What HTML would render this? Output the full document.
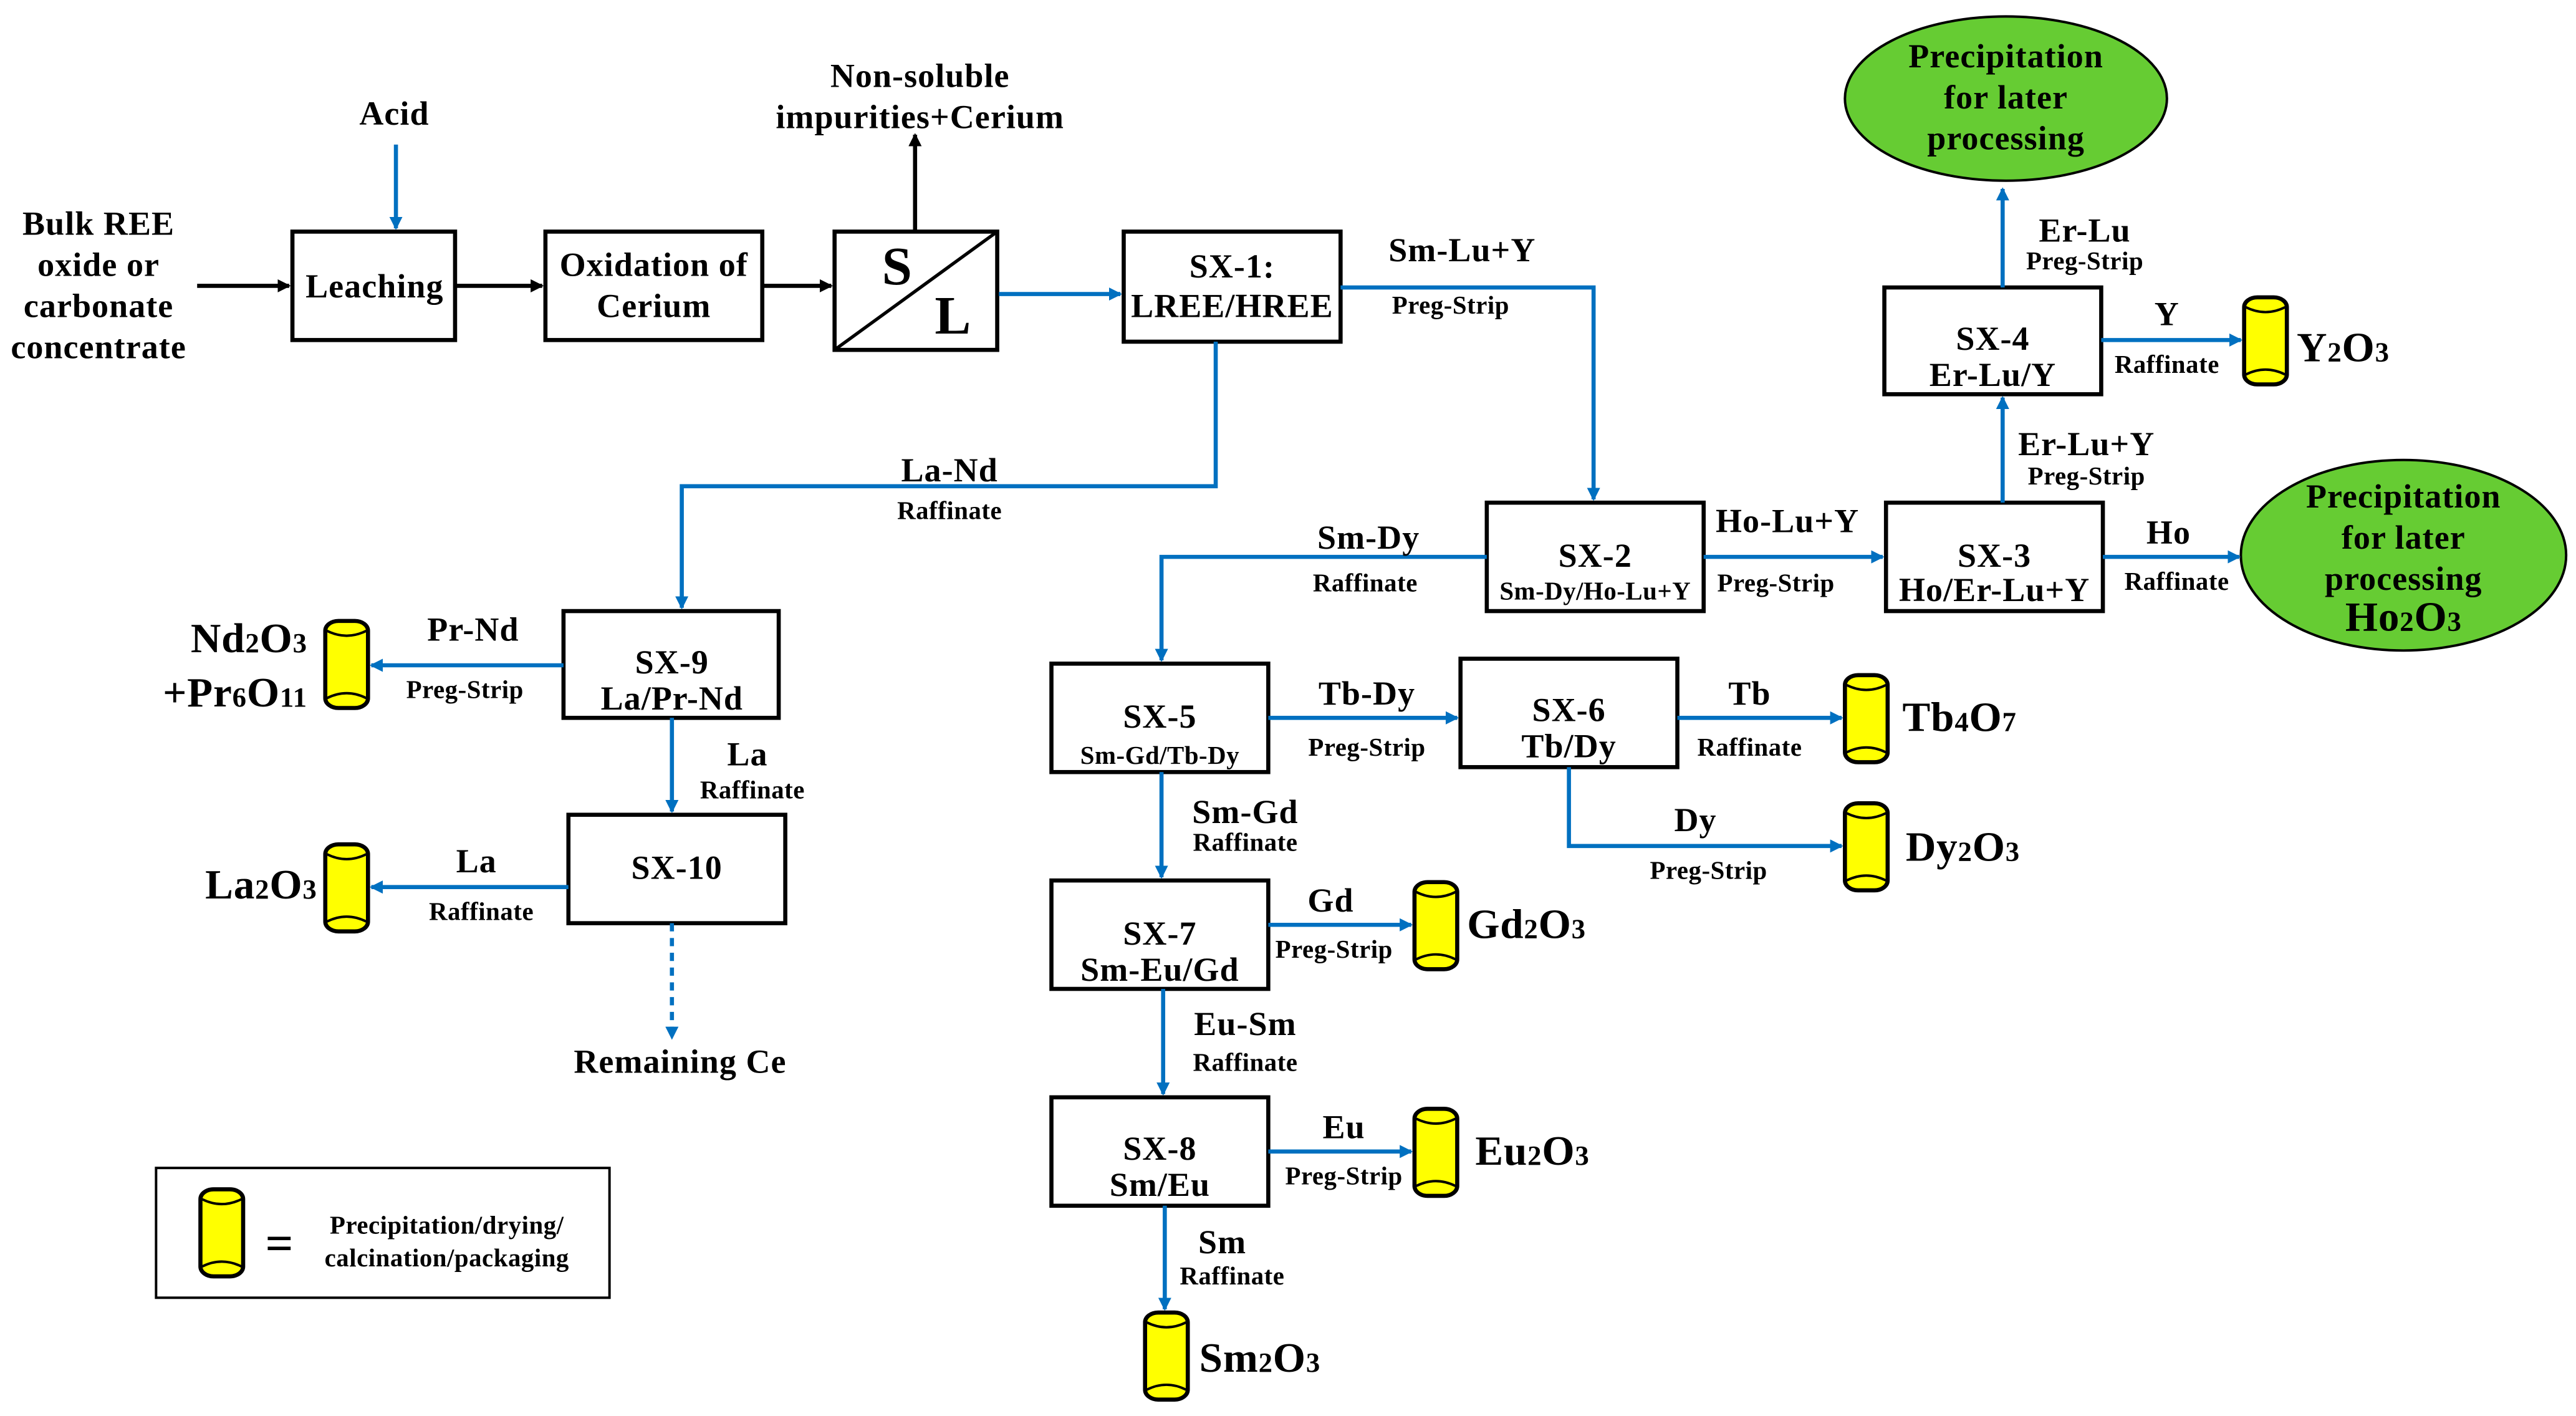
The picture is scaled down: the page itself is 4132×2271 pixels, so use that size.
<!DOCTYPE html>
<html><head><meta charset="utf-8"><style>
html,body{margin:0;padding:0;background:#fff;}
svg{display:block;}
text{font-family:"Liberation Serif",serif;font-weight:bold;fill:#000;}
.m{font-size:20.5px;letter-spacing:0.4px;}
.s{font-size:15.5px;letter-spacing:0.2px;}
.b{font-size:25.5px;letter-spacing:0.3px;}
</style></head><body>
<svg width="4132" height="2271" viewBox="0 0 1568 862" preserveAspectRatio="none" xmlns="http://www.w3.org/2000/svg">
<defs>
<marker id="ab" markerWidth="8" markerHeight="8" refX="7" refY="4" orient="auto" markerUnits="userSpaceOnUse"><path d="M0,0 L8,4 L0,8 z" fill="#0070c0"/></marker>
<marker id="ak" markerWidth="8" markerHeight="8" refX="7" refY="4" orient="auto" markerUnits="userSpaceOnUse"><path d="M0,0 L8,4 L0,8 z" fill="#000"/></marker>
<g id="cyl"><rect x="0" y="0" width="26" height="53" rx="8" ry="6" fill="#ffff00" stroke="#000" stroke-width="2.5"/><path d="M1,6 Q13,12 25,6 M1,47 Q13,41 25,47" fill="none" stroke="#000" stroke-width="1.5"/></g>
</defs>
<g fill="#fff" stroke="#000" stroke-width="2.5">
<rect x="178" y="141" width="99" height="66"/>
<rect x="332" y="141" width="132" height="66"/>
<rect x="508" y="141" width="99" height="72"/>
<rect x="684" y="141" width="132" height="67"/>
<rect x="905" y="306" width="132" height="66"/>
<rect x="1148" y="306" width="132" height="66"/>
<rect x="1147" y="175" width="132" height="65"/>
<rect x="343" y="372" width="131" height="65"/>
<rect x="346" y="496" width="132" height="66"/>
<rect x="640" y="404" width="132" height="66"/>
<rect x="889" y="401" width="132" height="66"/>
<rect x="640" y="536" width="132" height="66"/>
<rect x="640" y="668" width="132" height="66"/>
<rect x="95" y="711" width="276" height="79" stroke-width="1.5"/>
</g>
<line x1="508" y1="213" x2="607" y2="141" stroke="#000" stroke-width="2"/>
<ellipse cx="1463" cy="338" rx="99" ry="58" fill="#66cc33" stroke="#000" stroke-width="1.5"/>
<ellipse cx="1221" cy="60" rx="98" ry="50" fill="#66cc33" stroke="#000" stroke-width="1.5"/>
<g stroke="#000" stroke-width="2.5" fill="none">
<line x1="120" y1="174" x2="176" y2="174" marker-end="url(#ak)"/>
<line x1="278" y1="174" x2="330" y2="174" marker-end="url(#ak)"/>
<line x1="465" y1="174" x2="506" y2="174" marker-end="url(#ak)"/>
<line x1="557" y1="141" x2="557" y2="82" marker-end="url(#ak)"/>
</g>
<g stroke="#0070c0" stroke-width="2.5" fill="none">
<line x1="241" y1="88" x2="241" y2="139" marker-end="url(#ab)"/>
<line x1="608" y1="179" x2="682" y2="179" marker-end="url(#ab)"/>
<polyline points="816,175 970,175 970,304" marker-end="url(#ab)"/>
<polyline points="740,208 740,296 415,296 415,370" marker-end="url(#ab)"/>
<polyline points="905,339 707,339 707,402" marker-end="url(#ab)"/>
<line x1="1037" y1="339" x2="1146" y2="339" marker-end="url(#ab)"/>
<line x1="1280" y1="339" x2="1363" y2="339" marker-end="url(#ab)"/>
<line x1="1219" y1="306" x2="1219" y2="242" marker-end="url(#ab)"/>
<line x1="1279" y1="207" x2="1364" y2="207" marker-end="url(#ab)"/>
<line x1="1219" y1="175" x2="1219" y2="115" marker-end="url(#ab)"/>
<line x1="343" y1="405" x2="226" y2="405" marker-end="url(#ab)"/>
<line x1="409" y1="437" x2="409" y2="494" marker-end="url(#ab)"/>
<line x1="346" y1="540" x2="226" y2="540" marker-end="url(#ab)"/>
<line x1="409" y1="562" x2="409" y2="632" stroke-dasharray="5,4" marker-end="url(#ab)"/>
<line x1="772" y1="437" x2="887" y2="437" marker-end="url(#ab)"/>
<line x1="1021" y1="437" x2="1121" y2="437" marker-end="url(#ab)"/>
<polyline points="955,467 955,515 1121,515" marker-end="url(#ab)"/>
<line x1="707" y1="470" x2="707" y2="534" marker-end="url(#ab)"/>
<line x1="772" y1="563" x2="859" y2="563" marker-end="url(#ab)"/>
<line x1="708" y1="602" x2="708" y2="666" marker-end="url(#ab)"/>
<line x1="772" y1="701" x2="859" y2="701" marker-end="url(#ab)"/>
<line x1="709" y1="734" x2="709" y2="797" marker-end="url(#ab)"/>
</g>
<use href="#cyl" x="1366" y="181"/>
<use href="#cyl" x="198" y="378"/>
<use href="#cyl" x="198" y="514"/>
<use href="#cyl" x="1123" y="411"/>
<use href="#cyl" x="1123" y="489"/>
<use href="#cyl" x="861" y="537"/>
<use href="#cyl" x="861" y="675"/>
<use href="#cyl" x="697" y="799"/>
<use href="#cyl" x="122" y="724"/>
<g text-anchor="middle" class="m">
<text x="60" y="143">Bulk REE</text><text x="60" y="168">oxide or</text><text x="60" y="193">carbonate</text><text x="60" y="218">concentrate</text>
<text x="240" y="76">Acid</text>
<text x="228" y="181">Leaching</text>
<text x="398" y="168">Oxidation of</text><text x="398" y="193">Cerium</text>
<text x="560" y="53">Non-soluble</text><text x="560" y="78">impurities+Cerium</text>
<text x="750" y="169">SX-1:</text><text x="750" y="193">LREE/HREE</text>
<text x="890" y="159">Sm-Lu+Y</text><text x="883" y="191" class="s">Preg-Strip</text>
<text x="578" y="293">La-Nd</text><text x="578" y="316" class="s">Raffinate</text>
<text x="971" y="345">SX-2</text><text x="971" y="365" class="s">Sm-Dy/Ho-Lu+Y</text>
<text x="833" y="334">Sm-Dy</text><text x="831" y="360" class="s">Raffinate</text>
<text x="1088" y="324">Ho-Lu+Y</text><text x="1081" y="360" class="s">Preg-Strip</text>
<text x="1214" y="345">SX-3</text><text x="1214" y="366">Ho/Er-Lu+Y</text>
<text x="1320" y="331">Ho</text><text x="1325" y="359" class="s">Raffinate</text>
<text x="1463" y="309">Precipitation</text><text x="1463" y="334">for later</text><text x="1463" y="359">processing</text>
<text x="1463" y="384" class="b">Ho<tspan font-size="17">2</tspan>O<tspan font-size="17">3</tspan></text>
<text x="1270" y="277">Er-Lu+Y</text><text x="1270" y="295" class="s">Preg-Strip</text>
<text x="1213" y="213">SX-4</text><text x="1213" y="235">Er-Lu/Y</text>
<text x="1319" y="198">Y</text><text x="1319" y="227" class="s">Raffinate</text>
<text x="1269" y="147">Er-Lu</text><text x="1269" y="164" class="s">Preg-Strip</text>
<text x="1221" y="41">Precipitation</text><text x="1221" y="66">for later</text><text x="1221" y="91">processing</text>
<text x="409" y="410">SX-9</text><text x="409" y="432">La/Pr-Nd</text>
<text x="288" y="390">Pr-Nd</text><text x="283" y="425" class="s">Preg-Strip</text>
<text x="455" y="466">La</text><text x="458" y="486" class="s">Raffinate</text>
<text x="412" y="535">SX-10</text>
<text x="290" y="531">La</text><text x="293" y="560" class="s">Raffinate</text>
<text x="414" y="653">Remaining Ce</text>
<text x="706" y="443">SX-5</text><text x="706" y="465" class="s">Sm-Gd/Tb-Dy</text>
<text x="832" y="429">Tb-Dy</text><text x="832" y="460" class="s">Preg-Strip</text>
<text x="955" y="439">SX-6</text><text x="955" y="461">Tb/Dy</text>
<text x="1065" y="429">Tb</text><text x="1065" y="460" class="s">Raffinate</text>
<text x="1032" y="506">Dy</text><text x="1040" y="535" class="s">Preg-Strip</text>
<text x="758" y="501">Sm-Gd</text><text x="758" y="518" class="s">Raffinate</text>
<text x="706" y="575">SX-7</text><text x="706" y="597">Sm-Eu/Gd</text>
<text x="810" y="555">Gd</text><text x="812" y="583" class="s">Preg-Strip</text>
<text x="758" y="630">Eu-Sm</text><text x="758" y="652" class="s">Raffinate</text>
<text x="706" y="706">SX-8</text><text x="706" y="728">Sm/Eu</text>
<text x="818" y="693">Eu</text><text x="818" y="721" class="s">Preg-Strip</text>
<text x="744" y="763">Sm</text><text x="750" y="782" class="s">Raffinate</text>
<text x="272" y="751" class="s">Precipitation/drying/</text><text x="272" y="771" class="s">calcination/packaging</text>
</g>
<text x="546" y="173" style="font-size:33px" text-anchor="middle">S</text>
<text x="580" y="203" style="font-size:33px" text-anchor="middle">L</text>
<text x="170" y="767" style="font-size:30px" text-anchor="middle">=</text>
<g class="b">
<text x="1398" y="220">Y<tspan font-size="17">2</tspan>O<tspan font-size="17">3</tspan></text>
<text x="187" y="397" text-anchor="end">Nd<tspan font-size="17">2</tspan>O<tspan font-size="17">3</tspan></text>
<text x="187" y="430" text-anchor="end">+Pr<tspan font-size="17">6</tspan>O<tspan font-size="17">11</tspan></text>
<text x="193" y="547" text-anchor="end">La<tspan font-size="17">2</tspan>O<tspan font-size="17">3</tspan></text>
<text x="1158" y="445">Tb<tspan font-size="17">4</tspan>O<tspan font-size="17">7</tspan></text>
<text x="1160" y="524">Dy<tspan font-size="17">2</tspan>O<tspan font-size="17">3</tspan></text>
<text x="893" y="571">Gd<tspan font-size="17">2</tspan>O<tspan font-size="17">3</tspan></text>
<text x="898" y="709">Eu<tspan font-size="17">2</tspan>O<tspan font-size="17">3</tspan></text>
<text x="730" y="835">Sm<tspan font-size="17">2</tspan>O<tspan font-size="17">3</tspan></text>
</g>
</svg>
</body></html>
